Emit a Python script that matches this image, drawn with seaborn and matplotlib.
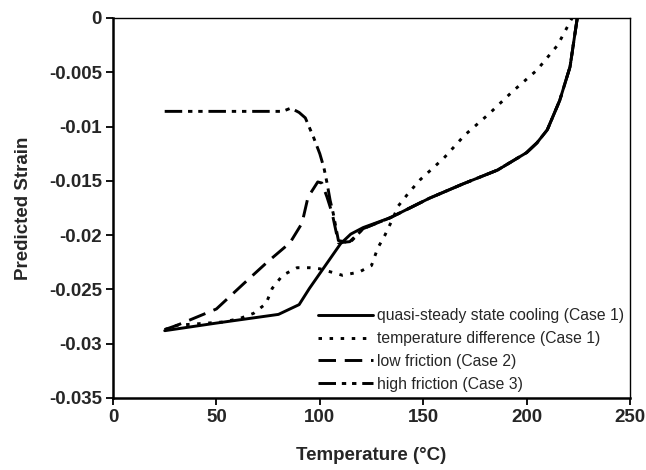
import matplotlib
matplotlib.use("Agg")
import matplotlib.pyplot as plt
import seaborn as sns
import pandas as pd

# ---- data ----
T_solid = [25, 50, 80, 90, 95, 110, 115, 121, 134, 153, 169, 186, 200, 205, 210, 216, 221, 224.5]
S_solid = [-0.0288, -0.0281, -0.0273, -0.0264, -0.0249, -0.0208, -0.0199, -0.0193, -0.0184,
           -0.0166, -0.0153, -0.0140, -0.0124, -0.0115, -0.0103, -0.0076, -0.0045, 0.0]

T_temp = [25, 31, 53, 61, 68, 74, 77, 82, 89, 95, 100, 111, 119, 125, 128, 131.5, 135, 138,
          143, 148.5, 160, 170, 182, 193, 205, 215, 222]
S_temp = [-0.0287, -0.0283, -0.0280, -0.0277, -0.0272, -0.0263, -0.0249, -0.0237, -0.0230,
          -0.0230, -0.0231, -0.0237, -0.0234, -0.0228, -0.0212, -0.0200, -0.0186, -0.0173,
          -0.0161, -0.0149, -0.0129, -0.0108, -0.0088, -0.0068, -0.0048, -0.0025, 0.0]

T_low = [25, 31, 50, 63, 74.5, 85.6, 91.4, 94.3, 97, 99, 101, 103.5, 106, 109, 114.5, 121,
         134, 153, 169, 186, 200, 205, 210, 216, 221, 224.5]
S_low = [-0.0287, -0.0283, -0.0268, -0.0245, -0.0225, -0.0207, -0.0189, -0.0165, -0.0157,
         -0.0151, -0.0152, -0.0165, -0.0180, -0.0207, -0.0206, -0.0194,
         -0.0184, -0.0166, -0.0153, -0.0140, -0.0124, -0.0115, -0.0103, -0.0076, -0.0045, 0.0]

T_high = [25, 82, 86, 90, 93, 97, 100, 102, 103.5, 105, 106.5, 109, 114.5, 121,
          134, 153, 169, 186, 200, 205, 210, 216, 221, 224.5]
S_high = [-0.0086, -0.0086, -0.0083, -0.0087, -0.0092, -0.0110, -0.0125, -0.0138, -0.0152,
          -0.0168, -0.0180, -0.0205, -0.0207, -0.0194,
          -0.0184, -0.0166, -0.0153, -0.0140, -0.0124, -0.0115, -0.0103, -0.0076, -0.0045, 0.0]

labels = ["quasi-steady state cooling (Case 1)",
          "temperature difference (Case 1)",
          "low friction (Case 2)",
          "high friction (Case 3)"]

x_ticks = [0, 50, 100, 150, 200, 250]
y_ticks = [-0.035, -0.03, -0.025, -0.02, -0.015, -0.01, -0.005, 0]
y_tick_labels = ["-0.035", "-0.03", "-0.025", "-0.02", "-0.015", "-0.01", "-0.005", "0"]

# ---- style ----
sns.set_style("ticks")
plt.rcParams["font.family"] = ["Liberation Sans", "DejaVu Sans"]

fig = plt.figure(figsize=(6.46, 4.70), dpi=100)
ax = fig.add_axes([113 / 646, 72 / 470, 517 / 646, 380 / 470])

series = [(T_solid, S_solid), (T_temp, S_temp), (T_low, S_low), (T_high, S_high)]
dash_styles = [None, (1.2, 2.6), (6, 3), (6, 2, 1.5, 2, 1.5, 2)]
lw = 2.1

handles = []
for (tx, sy), lab, dsh in zip(series, labels, dash_styles):
    df = pd.DataFrame({"T": tx, "S": sy})
    n0 = len(ax.lines)
    sns.lineplot(data=df, x="T", y="S", ax=ax, sort=False, estimator=None,
                 color="black", linewidth=lw, label=lab, legend=False)
    line = ax.lines[n0]
    if dsh is not None:
        line.set_dashes(dsh)
    handles.append(line)

ax.set_xlim(0, 250)
ax.set_ylim(-0.035, 0)
ax.set_xticks(x_ticks)
ax.set_xticklabels([str(v) for v in x_ticks])
ax.set_yticks(y_ticks)
ax.set_yticklabels(y_tick_labels)

for lbl in ax.get_xticklabels() + ax.get_yticklabels():
    lbl.set_fontweight("bold")
    lbl.set_fontsize(13.5)

ax.tick_params(axis="both", direction="out", length=5, width=1.3, color="black", pad=3)
ax.set_xlabel("Temperature (°C)", fontsize=13.5, fontweight="bold", labelpad=15)
ax.set_ylabel("Predicted Strain", fontsize=13.5, fontweight="bold", labelpad=12)

for side in ["left", "bottom"]:
    ax.spines[side].set_linewidth(1.8)
for side in ["top", "right"]:
    ax.spines[side].set_linewidth(1.0)
for s in ax.spines.values():
    s.set_color("black")

leg = ax.legend(handles=handles, labels=labels, loc="lower right",
                bbox_to_anchor=(1.0, 0.0), frameon=False, fontsize=11.3,
                handlelength=3.5, handletextpad=0.25, labelspacing=0.5,
                borderaxespad=0.2, borderpad=0.2)

fig.savefig("out.png", dpi=100)
